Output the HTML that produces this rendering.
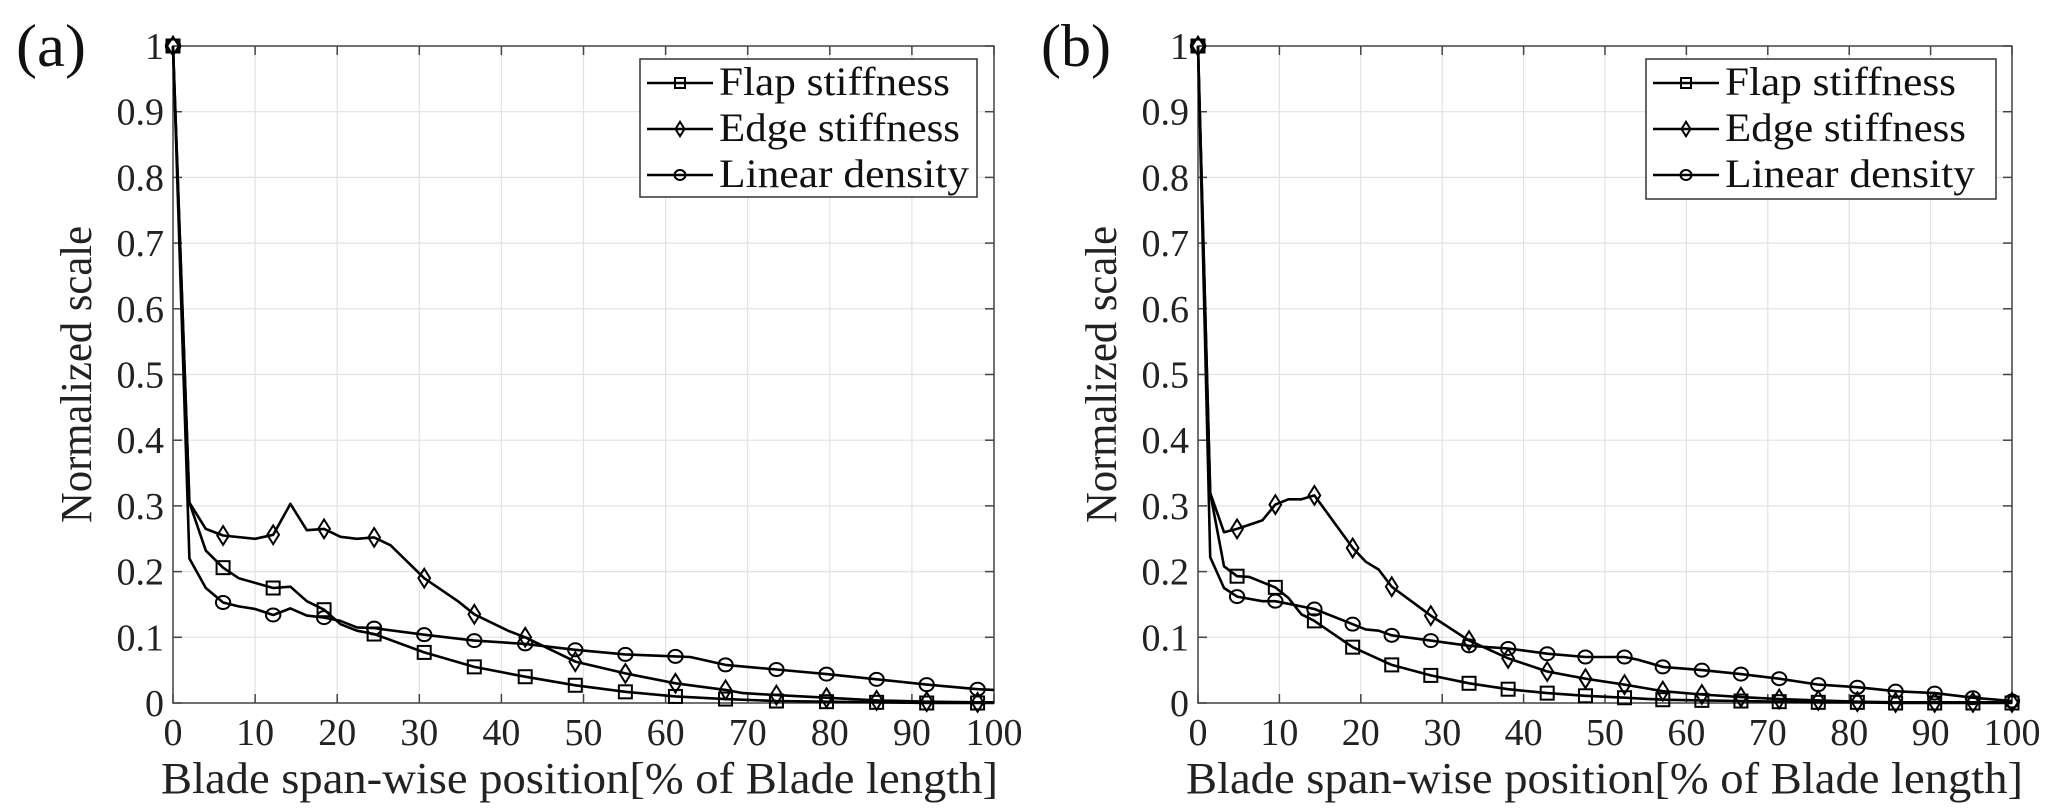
<!DOCTYPE html>
<html><head><meta charset="utf-8">
<style>
html,body{margin:0;padding:0;background:#fff;}
svg{display:block;font-family:"Liberation Serif","DejaVu Serif",serif;}
text{font-family:"Liberation Serif","DejaVu Serif",serif;}
</style></head>
<body>
<svg id="fig" width="2067" height="812" viewBox="0 0 2067 812" xmlns="http://www.w3.org/2000/svg"></svg>
<script>
// ---- data panel (a) ----
const aFlapX = [0,2,4,6.1,8,12.2,14.3,16.3,18.4,20.4,22.4,24.5,30.6,36.7,42.9,49,55.1,61.2,67.3,73.5,79.6,85.7,91.8,98,100];
const aFlapY = [1,0.305,0.232,0.206,0.19,0.175,0.177,0.155,0.142,0.12,0.11,0.105,0.077,0.055,0.04,0.027,0.017,0.01,0.006,0.003,0.002,0.001,0,0,0];
const aEdgeX = [0,2,4,6.1,10,12.2,14.3,16.3,18.4,20.4,22.4,24.5,26.5,30.6,34.7,36.7,40.8,42.9,49,55.1,61.2,67.3,69.4,73.5,79.6,85.7,91.8,98,100];
const aEdgeY = [1,0.305,0.265,0.255,0.25,0.256,0.303,0.263,0.265,0.253,0.25,0.252,0.24,0.19,0.155,0.135,0.11,0.1,0.063,0.045,0.03,0.02,0.015,0.012,0.008,0.004,0.002,0.001,0.001];
const aDensX = [0,2,4,6.1,8,10,12.2,14.3,16.3,18.4,20.4,22.4,24.5,30.6,36.7,42.9,49,55.1,61.2,63,67.3,73.5,79.6,85.7,91.8,98,100];
const aDensY = [1,0.22,0.175,0.153,0.147,0.143,0.134,0.144,0.133,0.13,0.125,0.115,0.114,0.104,0.095,0.09,0.081,0.074,0.071,0.07,0.058,0.051,0.044,0.036,0.028,0.021,0.02];
const aMarkX = [0,6.1,12.2,18.4,24.5,30.6,36.7,42.9,49,55.1,61.2,67.3,73.5,79.6,85.7,91.8,98];
// ---- data panel (b) ----
const bFlapX = [0,1.5,3.2,4.8,6.3,9.5,11.1,12.7,14.3,19,23.8,28.6,33.3,38.1,42.9,47.6,52.4,57.1,61.9,66.7,71.4,76.2,81,85.7,90.5,95.2,100];
const bFlapY = [1,0.32,0.208,0.193,0.192,0.176,0.16,0.135,0.125,0.085,0.058,0.042,0.03,0.021,0.015,0.011,0.008,0.005,0.004,0.003,0.002,0.001,0.001,0,0,0,0];
const bEdgeX = [0,1.5,3.2,4.8,7.9,9.5,11.1,12.7,14.3,19,20.6,22.2,23.8,28.6,33.3,38.1,42.9,47.6,52.4,57.1,61.9,66.7,71.4,76.2,81,85.7,90.5,95.2,100];
const bEdgeY = [1,0.32,0.26,0.265,0.278,0.302,0.31,0.31,0.316,0.236,0.215,0.203,0.177,0.133,0.095,0.068,0.048,0.037,0.028,0.018,0.013,0.009,0.006,0.004,0.002,0.001,0.001,0.001,0.001];
const bDensX = [0,1.5,3.2,4.8,7.9,9.5,14.3,19,20.6,22.2,23.8,28.6,33.3,38.1,42.9,47.6,52.4,54,57.1,61.9,66.7,71.4,76.2,81,85.7,90.5,95.2,100];
const bDensY = [1,0.222,0.175,0.162,0.155,0.155,0.143,0.12,0.112,0.11,0.103,0.095,0.087,0.083,0.075,0.07,0.07,0.066,0.055,0.05,0.044,0.037,0.028,0.024,0.018,0.015,0.008,0.003];
const bMarkX = [0,4.8,9.5,14.3,19,23.8,28.6,33.3,38.1,42.9,47.6,52.4,57.1,61.9,66.7,71.4,76.2,81,85.7,90.5,95.2,100];
const xTicks = [0,10,20,30,40,50,60,70,80,90,100];
const yTicks = [0,0.1,0.2,0.3,0.4,0.5,0.6,0.7,0.8,0.9,1];
const yTickLabels = ["0","0.1","0.2","0.3","0.4","0.5","0.6","0.7","0.8","0.9","1"];
const seriesNames = ["Flap stiffness","Edge stiffness","Linear density"];
const legendWidths = [231,241,250];

const NS="http://www.w3.org/2000/svg";
const FF='"Liberation Serif","DejaVu Serif",serif';
const svg=document.getElementById('fig');
function mk(tag,attrs,parent){const e=document.createElementNS(NS,tag);for(const k in attrs)e.setAttribute(k,attrs[k]);if(tag==='text')e.setAttribute('font-family',FF);(parent||svg).appendChild(e);return e;}

function marker(g,type,cx,cy,s){
  let m;
  if(type==='square'){m=mk('rect',{x:cx-s/2,y:cy-s/2,width:s,height:s,fill:'none',stroke:'#000','stroke-width':2},g);}
  else if(type==='diamond'){m=mk('polygon',{points:`${cx},${cy-s*0.72} ${cx+s*0.45},${cy} ${cx},${cy+s*0.72} ${cx-s*0.45},${cy}`,fill:'none',stroke:'#000','stroke-width':2},g);}
  else{m=mk('ellipse',{cx:cx,cy:cy,rx:s*0.55,ry:s*0.5,fill:'none',stroke:'#000','stroke-width':2},g);}
  
  
}

function panel(id,L,R,T,B,label,series,markX,leg){
  const g=mk('g',{});
  
  
  const sx=v=>L+(R-L)*v/100, sy=v=>B-(B-T)*v;
  xTicks.forEach(t=>{const l=mk('line',{x1:sx(t),x2:sx(t),y1:T,y2:B,stroke:'#e2e2e2','stroke-width':1.2},g);
    });
  yTicks.forEach(t=>{const l=mk('line',{x1:L,x2:R,y1:sy(t),y2:sy(t),stroke:'#e2e2e2','stroke-width':1.2},g);
    });
  const box=mk('rect',{x:L,y:T,width:R-L,height:B-T,fill:'none',stroke:'#444','stroke-width':1.5},g);
  
  xTicks.forEach(t=>{
    mk('line',{x1:sx(t),x2:sx(t),y1:B,y2:B-9,stroke:'#444','stroke-width':1.5},g);
    mk('line',{x1:sx(t),x2:sx(t),y1:T,y2:T+9,stroke:'#444','stroke-width':1.5},g);
    const tx=mk('text',{x:sx(t),y:B+42,'font-size':38,'text-anchor':'middle',fill:'#222'},g);tx.textContent=t;
    
  });
  yTicks.forEach((t,i)=>{
    mk('line',{x1:L,x2:L+9,y1:sy(t),y2:sy(t),stroke:'#444','stroke-width':1.5},g);
    mk('line',{x1:R,x2:R-9,y1:sy(t),y2:sy(t),stroke:'#444','stroke-width':1.5},g);
    const tx=mk('text',{x:L-9,y:sy(t)+13,'font-size':38,'text-anchor':'end',fill:'#222'},g);tx.textContent=yTickLabels[i];
    
  });
  const xt=mk('text',{x:L-12,y:B+90,'font-size':44,fill:'#222',textLength:837,lengthAdjust:'spacingAndGlyphs'},g);
  xt.textContent='Blade span-wise position[% of Blade length]';
  
  const yt=mk('text',{x:0,y:0,'font-size':44,'text-anchor':'middle',fill:'#222',textLength:297,lengthAdjust:'spacingAndGlyphs',transform:`translate(${L-82},${(T+B)/2}) rotate(-90)`},g);
  yt.textContent='Normalized scale';
  
  const pl=mk('text',{x:L-157,y:T+20,'font-size':60,fill:'#111',textLength:70,lengthAdjust:'spacingAndGlyphs'},g);pl.textContent=label;
  
  const types=['square','diamond','circle'];
  series.forEach((s,si)=>{
    const sg=mk('g',{},g);
    
    
    const pts=s[0].map((x,i)=>sx(x).toFixed(1)+','+sy(s[1][i]).toFixed(1)).join(' ');
    const pline=mk('polyline',{points:pts,fill:'none',stroke:'#000','stroke-width':2.6,'stroke-linejoin':'round'},sg);
    
    s[0].forEach((x,i)=>{ if(markX.some(m=>Math.abs(m-x)<0.05)) marker(sg,types[si],sx(x),sy(s[1][i]),13); });
  });
  const lg=mk('g',{},g);
  
  mk('rect',{x:leg[0],y:leg[1],width:leg[2],height:leg[3],fill:'#fff',stroke:'#333','stroke-width':1.5},lg);
  seriesNames.forEach((n,i)=>{
    const cy=leg[1]+24+i*46;
    const e=mk('g',{},lg);
    
    mk('line',{x1:leg[0]+7,x2:leg[0]+73,y1:cy,y2:cy,stroke:'#000','stroke-width':2.4},e);
    marker(e,types[i],leg[0]+40,cy,10);
    const t=mk('text',{x:leg[0]+79,y:cy+12,'font-size':40,fill:'#111',textLength:legendWidths[i],lengthAdjust:'spacingAndGlyphs'},e);t.textContent=n;
  });
}
panel('a',173,994,46,703,'(a)',[[aFlapX,aFlapY],[aEdgeX,aEdgeY],[aDensX,aDensY]],aMarkX,[640,59,337,138]);
panel('b',1198,2012,46,703,'(b)',[[bFlapX,bFlapY],[bEdgeX,bEdgeY],[bDensX,bDensY]],bMarkX,[1646,59,350,140]);
</script>
</body></html>
